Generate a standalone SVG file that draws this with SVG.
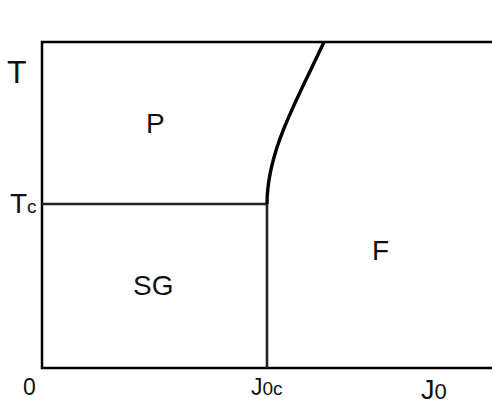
<svg xmlns="http://www.w3.org/2000/svg" width="492" height="404" viewBox="0 0 492 404">
<style>
.frame{fill:none;stroke:#000;stroke-width:2.5}
.bd{fill:none;stroke:#222;stroke-width:2.6}
.curve{fill:none;stroke:#000;stroke-width:3.4}
text{font-family:"Liberation Sans",Arial,sans-serif;fill:#111}
.lab{font-size:28px}
</style>
<rect width="492" height="404" fill="#fff"/>
<g id="axes">
<path class="frame" d="M492 42 H42 V368 H492"/>
</g>
<g id="connectors">
<path class="bd" d="M42 204 H267 V368"/>
<path class="curve" d="M267 204 C267 150 298 98 324 42"/>
</g>
<g id="P"><text class="lab" x="146" y="133">P</text></g>
<g id="SG"><text class="lab" x="133" y="295">SG</text></g>
<g id="F"><text class="lab" x="372" y="260">F</text></g>
<g id="labels">
<text x="7" y="83" font-size="32">T</text>
<text x="10" y="213" font-size="28">T<tspan font-size="19">c</tspan></text>
<text x="23" y="395" font-size="23">0</text>
<text x="251" y="395" font-size="23">J<tspan font-size="19">0c</tspan></text>
<text x="421" y="399" font-size="27">J<tspan font-size="22">0</tspan></text>
</g>
</svg>
